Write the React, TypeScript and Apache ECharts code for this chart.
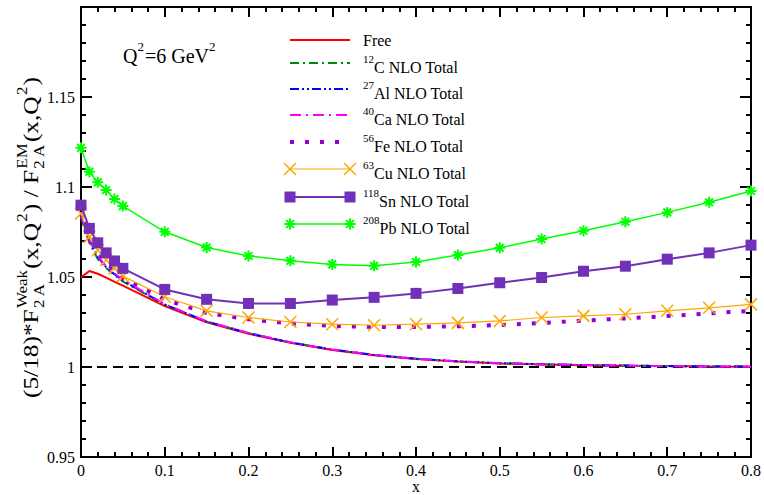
import React, { useEffect, useRef } from 'react';
import * as echarts from 'echarts';

// ---- data ----
const xValues = [0, 0.01, 0.02, 0.03, 0.04, 0.05, 0.1, 0.15, 0.2, 0.25, 0.3, 0.35, 0.4, 0.45, 0.5, 0.55, 0.6, 0.65, 0.7, 0.75, 0.8];
const freeValues = [1.0498, 1.0533, 1.0518, 1.0497, 1.0473, 1.0452, 1.0338, 1.0248, 1.0185, 1.0134, 1.0095, 1.0065, 1.0045, 1.003, 1.002, 1.0014, 1.001, 1.0007, 1.0005, 1.0003, 1.0002];
const cValues = [1.083, 1.069, 1.06, 1.055, 1.051, 1.0475, 1.0345, 1.0252, 1.0188, 1.0136, 1.0097, 1.0067, 1.0046, 1.0031, 1.0021, 1.0015, 1.0011, 1.0008, 1.0005, 1.0003, 1.0002];
const alValues = [1.084, 1.07, 1.061, 1.0555, 1.0515, 1.048, 1.0347, 1.0253, 1.0188, 1.0136, 1.0097, 1.0067, 1.0046, 1.0031, 1.0021, 1.0015, 1.0011, 1.0008, 1.0005, 1.0003, 1.0002];
const caValues = [1.0845, 1.0705, 1.0615, 1.056, 1.052, 1.0485, 1.0349, 1.0254, 1.0189, 1.0137, 1.0097, 1.0067, 1.0046, 1.0031, 1.0021, 1.0015, 1.0011, 1.0008, 1.0005, 1.0003, 1.0002];
const feValues = [1.085, 1.072, 1.064, 1.058, 1.0535, 1.0495, 1.0375, 1.03, 1.0265, 1.0242, 1.0228, 1.0222, 1.0222, 1.0226, 1.0233, 1.0244, 1.0258, 1.027, 1.0283, 1.0298, 1.0312];
const cuValues = [1.0853, 1.0723, 1.0649, 1.0594, 1.0548, 1.0505, 1.039, 1.0312, 1.0275, 1.025, 1.0238, 1.0232, 1.0238, 1.0245, 1.0256, 1.0275, 1.0284, 1.0293, 1.0312, 1.0329, 1.0348];
const snValues = [1.0899, 1.077, 1.069, 1.0634, 1.0589, 1.0548, 1.0431, 1.0376, 1.0353, 1.0353, 1.0372, 1.0387, 1.0409, 1.0436, 1.0468, 1.0497, 1.0532, 1.056, 1.0599, 1.0634, 1.0677];
const pbValues = [1.1218, 1.1085, 1.1026, 1.0983, 1.0933, 1.0894, 1.0751, 1.0664, 1.0617, 1.059, 1.057, 1.0562, 1.0583, 1.0622, 1.0662, 1.0711, 1.0757, 1.0807, 1.0859, 1.0915, 1.0978];
const refX = [0, 0.8];
const refY = [1, 1];

const seriesNames = ['Free', '12C NLO Total', '27Al NLO Total', '40Ca NLO Total', '56Fe NLO Total', '63Cu NLO Total', '118Sn NLO Total', '208Pb NLO Total'];
const legendSup = ['', '12', '27', '40', '56', '63', '118', '208'];
const legendMain = ['Free', 'C NLO Total', 'Al NLO Total', 'Ca NLO Total', 'Fe NLO Total', 'Cu NLO Total', 'Sn NLO Total', 'Pb NLO Total'];
const seriesValues = [freeValues, cValues, alValues, caValues, feValues, cuValues, snValues, pbValues];

const FONT = '"Liberation Serif", "Times New Roman", serif';
const colors = ['#ff0000', '#00880a', '#0000ff', '#ff00ff', '#9400d3', '#ffa500', '#7030b8', '#00ff00'];
const dashes: any[] = ['solid', [9, 4, 2, 4], [9, 3, 2, 3, 2, 3], [11, 5, 2, 5], [4, 11], 'solid', 'solid', 'solid'];
const widths = [2, 2, 2, 2, 4, 1.2, 2, 1.5];
const X_PATH = 'path://M0,0L10,10M10,0L0,10';
const STAR_PATH = 'path://M5,0L5,10M0,5L10,5M1.5,1.5L8.5,8.5M8.5,1.5L1.5,8.5';
const symbols = ['none', 'none', 'none', 'none', 'none', X_PATH, 'rect', STAR_PATH];
const symbolSizes = [0, 0, 0, 0, 0, 12, 11, 11];

function measure(text: string, size: number) {
  const ctx = document.createElement('canvas').getContext('2d') as CanvasRenderingContext2D;
  ctx.font = `${size}px ${FONT}`;
  return ctx.measureText(text).width;
}

function buildYLabel() {
  const mainSize = 21;
  const smallSize = 14;
  const parts = [
    { main: '(5/18)*F', sub: '2 A', sup: 'Weak' },
    { main: '(x,Q', sup: '2' },
    { main: ') / F', sub: '2 A', sup: 'EM' },
    { main: '(x,Q', sup: '2' },
    { main: ')' },
  ];
  const kids: any[] = [];
  let x = 0;
  parts.forEach((p: any) => {
    kids.push({ type: 'text', x, y: 0, style: { text: p.main, font: `${mainSize}px ${FONT}`, fill: '#000', verticalAlign: 'middle', align: 'left' } });
    x += measure(p.main, mainSize);
    let w = 0;
    if (p.sup) {
      kids.push({ type: 'text', x: x + 1, y: -9, style: { text: p.sup, font: `${smallSize}px ${FONT}`, fill: '#000', verticalAlign: 'middle', align: 'left' } });
      w = Math.max(w, measure(p.sup, smallSize) + 2);
    }
    if (p.sub) {
      kids.push({ type: 'text', x: x + 1, y: 8, style: { text: p.sub, font: `${smallSize}px ${FONT}`, fill: '#000', verticalAlign: 'middle', align: 'left' } });
      w = Math.max(w, measure(p.sub, smallSize) + 2);
    }
    x += w;
  });
  const total = x;
  const target = 321;
  const s = target / total;
  return {
    type: 'group',
    x: 31,
    y: 398,
    rotation: Math.PI / 2,
    scaleX: s,
    children: kids,
  };
}

function buildQLabel() {
  const main = 20;
  const small = 13;
  const kids: any[] = [];
  let x = 123;
  const y = 56;
  const add = (t: string, sup: boolean) => {
    const size = sup ? small : main;
    kids.push({ type: 'text', x, y: sup ? y - 10 : y, style: { text: t, font: `${size}px ${FONT}`, fill: '#000', verticalAlign: 'middle', align: 'left' } });
    x += measure(t, size) + (sup ? 1 : 0);
  };
  add('Q', false);
  add('2', true);
  add('=6 GeV', false);
  add('2', true);
  return { type: 'group', children: kids };
}

function buildLegend() {
  const rowY = [40, 63, 89, 115, 142, 169, 197, 224];
  const x1 = 290;
  const x2 = 350;
  const kids: any[] = [];
  seriesNames.forEach((_, i) => {
    const y = rowY[i];
    const dash = dashes[i] === 'solid' ? null : dashes[i];
    kids.push({ type: 'line', shape: { x1, y1: y, x2, y2: y }, style: { stroke: colors[i], lineWidth: widths[i], lineDash: dash }, z: 10 });
    [x1, x2].forEach((cx) => {
      if (i === 5) {
        kids.push({ type: 'line', shape: { x1: cx - 6, y1: y - 6, x2: cx + 6, y2: y + 6 }, style: { stroke: colors[i], lineWidth: 1.5 }, z: 11 });
        kids.push({ type: 'line', shape: { x1: cx + 6, y1: y - 6, x2: cx - 6, y2: y + 6 }, style: { stroke: colors[i], lineWidth: 1.5 }, z: 11 });
      } else if (i === 6) {
        kids.push({ type: 'rect', shape: { x: cx - 5.5, y: y - 5.5, width: 11, height: 11 }, style: { fill: colors[i] }, z: 11 });
      } else if (i === 7) {
        const r = 5.5;
        const d = r * 0.7;
        [[0, -r, 0, r], [-r, 0, r, 0], [-d, -d, d, d], [d, -d, -d, d]].forEach((q) => {
          kids.push({ type: 'line', shape: { x1: cx + q[0], y1: y + q[1], x2: cx + q[2], y2: y + q[3] }, style: { stroke: colors[i], lineWidth: 2 }, z: 11 });
        });
      }
    });
    const supX = 363;
    if (legendSup[i]) {
      kids.push({ type: 'text', x: supX, y: y - 4, style: { text: legendSup[i], font: `11px ${FONT}`, fill: '#000', verticalAlign: 'middle' }, z: 10 });
      const mx = supX + measure(legendSup[i], 11);
      kids.push({ type: 'text', x: mx, y: y + 4.5, style: { text: legendMain[i], font: `16px ${FONT}`, fill: '#000', verticalAlign: 'middle' }, z: 10 });
    } else {
      kids.push({ type: 'text', x: supX, y: y + 0.5, style: { text: legendMain[i], font: `16px ${FONT}`, fill: '#000', verticalAlign: 'middle' }, z: 10 });
    }
  });
  return { type: 'group', children: kids };
}

const fmt = (v: number) => String(parseFloat(v.toFixed(2)));

export default function App() {
  const ref = useRef<HTMLDivElement>(null);
  useEffect(() => {
    if (!ref.current) return;
    const chart = echarts.init(ref.current, null, { renderer: 'svg' });
    const axisLineStyle = { color: '#000', width: 2 };
    const baseX: any = {
      type: 'value', min: 0, max: 0.8, interval: 0.1,
      axisLine: { show: true, onZero: false, lineStyle: axisLineStyle },
      axisTick: { show: true, inside: true, length: 10, lineStyle: { color: '#000', width: 2 } },
      minorTick: { show: true, splitNumber: 5, length: 5, lineStyle: { color: '#000', width: 2 } },
      splitLine: { show: false }, minorSplitLine: { show: false },
    };
    const baseY: any = {
      type: 'value', min: 0.95, max: 1.2, interval: 0.05,
      axisLine: { show: true, onZero: false, lineStyle: axisLineStyle },
      axisTick: { show: true, inside: true, length: 11, lineStyle: { color: '#000', width: 2 } },
      minorTick: { show: true, splitNumber: 5, length: 5, lineStyle: { color: '#000', width: 2 } },
      splitLine: { show: false }, minorSplitLine: { show: false },
    };
    const series: any[] = [
      {
        type: 'line', name: 'ref', data: refX.map((x, i) => [x, refY[i]]), symbol: 'none',
        lineStyle: { color: '#000', width: 2, type: [10, 6] }, z: 1, silent: true,
      },
    ];
    seriesNames.forEach((name, i) => {
      const isPath = typeof symbols[i] === 'string' && symbols[i].startsWith('path://');
      series.push({
        type: 'line', name,
        data: xValues.map((x, j) => [x, seriesValues[i][j]]),
        symbol: symbols[i], symbolSize: symbolSizes[i], showSymbol: symbols[i] !== 'none',
        color: colors[i],
        lineStyle: { color: colors[i], width: widths[i], type: dashes[i], cap: 'butt' },
        itemStyle: isPath
          ? { color: 'rgba(0,0,0,0)', borderColor: colors[i], borderWidth: i === 7 ? 2 : 1.5 }
          : { color: colors[i] },
        z: 2 + i,
        clip: false,
      });
    });
    chart.setOption({
      animation: false,
      backgroundColor: '#fff',
      grid: { left: 81, top: 7, right: 13, bottom: 38, containLabel: false, outerBoundsMode: 'none' },
      xAxis: [
        {
          ...baseX, position: 'bottom',
          axisLabel: { color: '#000', fontSize: 16, fontFamily: FONT, margin: 5, formatter: fmt },
          name: 'x', nameLocation: 'middle', nameGap: 21, nameMoveOverlap: false,
          nameTextStyle: { color: '#000', fontSize: 16, fontFamily: FONT, lineHeight: 16 },
        },
        { ...baseX, position: 'top', axisLabel: { show: false } },
      ],
      yAxis: [
        {
          ...baseY, position: 'left',
          axisLabel: { color: '#000', fontSize: 16, fontFamily: FONT, margin: 6, formatter: (v: number) => (v > 1.19 ? '' : fmt(v)) },
        },
        { ...baseY, position: 'right', axisLabel: { show: false } },
      ],
      series,
      graphic: [buildYLabel(), buildQLabel(), buildLegend()],
    });
    return () => chart.dispose();
  }, []);
  return <div ref={ref} style={{ width: 764, height: 495, position: 'absolute', left: 0, top: 0 }} />;
}
